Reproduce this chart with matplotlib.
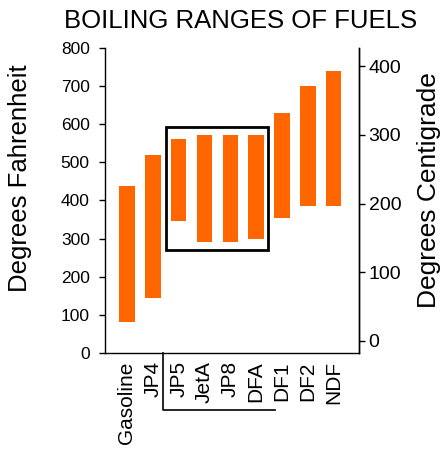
import matplotlib
matplotlib.use("Agg")
import matplotlib.pyplot as plt
from matplotlib.patches import Rectangle

plt.rcParams["font.family"] = ["Liberation Sans", "DejaVu Sans"]

fuels = ["Gasoline", "JP4", "JP5", "JetA", "JP8", "DFA", "DF1", "DF2", "NDF"]
low_f = [80, 145, 345, 290, 290, 300, 355, 385, 385]
high_f = [437, 520, 561, 572, 572, 572, 630, 700, 740]
f_ticks = [0, 100, 200, 300, 400, 500, 600, 700, 800]
c_ticks = [0, 100, 200, 300, 400]

orange = "#ff6600"

fig = plt.figure(figsize=(4.47, 4.55), dpi=100)
ax = fig.add_axes([0.235, 0.2242, 0.568, 0.6703])

x = list(range(len(fuels)))
heights = [h - l for l, h in zip(low_f, high_f)]
ax.bar(x, heights, bottom=low_f, width=0.6, color=orange)

ax.set_xlim(-0.85, 8.98)
ax.set_ylim(0, 800)
ax.set_yticks(f_ticks)
ax.tick_params(axis="y", direction="out", length=4, width=1, pad=7, labelsize=12.5)
ax.set_xticks(x)
ax.set_xticklabels(fuels, rotation=90, fontsize=15)
ax.tick_params(axis="x", length=0, pad=6)
ax.spines["top"].set_visible(False)
for s in ("left", "bottom", "right"):
    ax.spines[s].set_linewidth(1)

sec = ax.secondary_yaxis("right", functions=(lambda f: (f - 32) / 1.8,
                                             lambda c: c * 1.8 + 32))
sec.set_yticks(c_ticks)
sec.tick_params(direction="out", length=4, width=1, pad=3, labelsize=14)
sec.spines["right"].set_linewidth(1)

# axis titles placed in figure pixels
fig.text(20 / 447, 1 - 178.5 / 455, "Degrees Fahrenheit", fontsize=18.5,
         rotation=90, ha="center", va="center")
fig.text(429 / 447, 1 - 190 / 455, "Degrees Centigrade", fontsize=19,
         rotation=90, ha="center", va="center")

# box around the jet fuels
ax.add_patch(Rectangle((1.5, 270), 3.94, 322, fill=False, edgecolor="black", linewidth=2))

# bracket under their labels
tr = ax.get_xaxis_transform()
ax.plot([1.38, 1.38, 5.73], [0, -0.187, -0.187], color="black", lw=1.2,
        transform=tr, clip_on=False)

fig.text(0.539, 1 - 20.5 / 455, "BOILING RANGES OF FUELS", fontsize=18.5,
         ha="center", va="center")

fig.savefig("out.png", dpi=100)
